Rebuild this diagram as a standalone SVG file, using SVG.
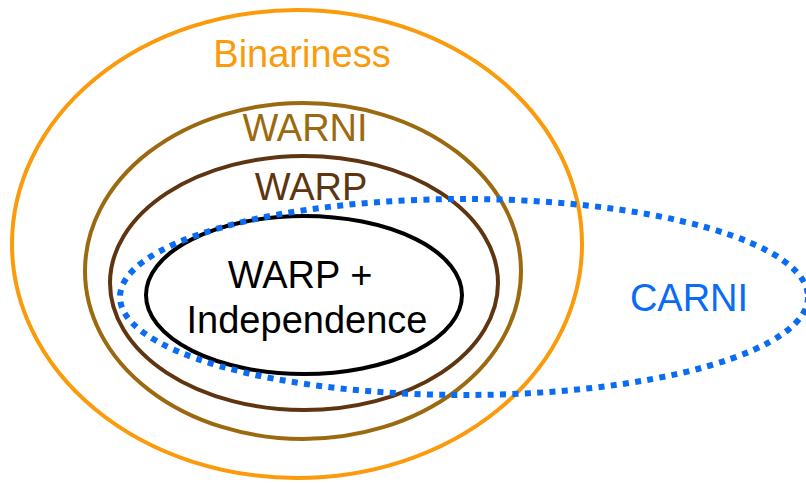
<svg xmlns="http://www.w3.org/2000/svg" width="806" height="483" viewBox="0 0 806 483">
<style>
.e{fill:none;stroke-width:4}
text{font-family:"Liberation Sans",Arial,sans-serif;font-size:38px;text-anchor:middle}
</style>
<rect width="806" height="483" fill="#fff"/>
<g id="binariness">
<ellipse class="e" cx="297" cy="244" rx="285" ry="234" stroke="#fb9a0a"/>
<text x="302" y="67" fill="#fb9a0a">Binariness</text>
</g>
<g id="warni">
<ellipse class="e" cx="303" cy="271" rx="218" ry="168" stroke="#9b6a10"/>
<text x="305" y="141" fill="#9b6a10">WARNI</text>
</g>
<g id="warp">
<ellipse class="e" cx="304" cy="283" rx="194" ry="127" stroke="#5e3510"/>
<text x="311" y="200" fill="#5e3510">WARP</text>
</g>
<g id="warp-independence">
<ellipse class="e" cx="304" cy="295" rx="158" ry="79" stroke="#000"/>
<text x="300" y="288" fill="#000">WARP +</text>
<text x="307" y="333" fill="#000">Independence</text>
</g>
<g id="carni">
<ellipse cx="464" cy="297" rx="344" ry="98" fill="none" stroke="#0a6cf5" stroke-width="6" stroke-dasharray="6 6.3"/>
<text x="689" y="311" fill="#0a6cf5">CARNI</text>
</g>
<g id="connectors"/>
</svg>
